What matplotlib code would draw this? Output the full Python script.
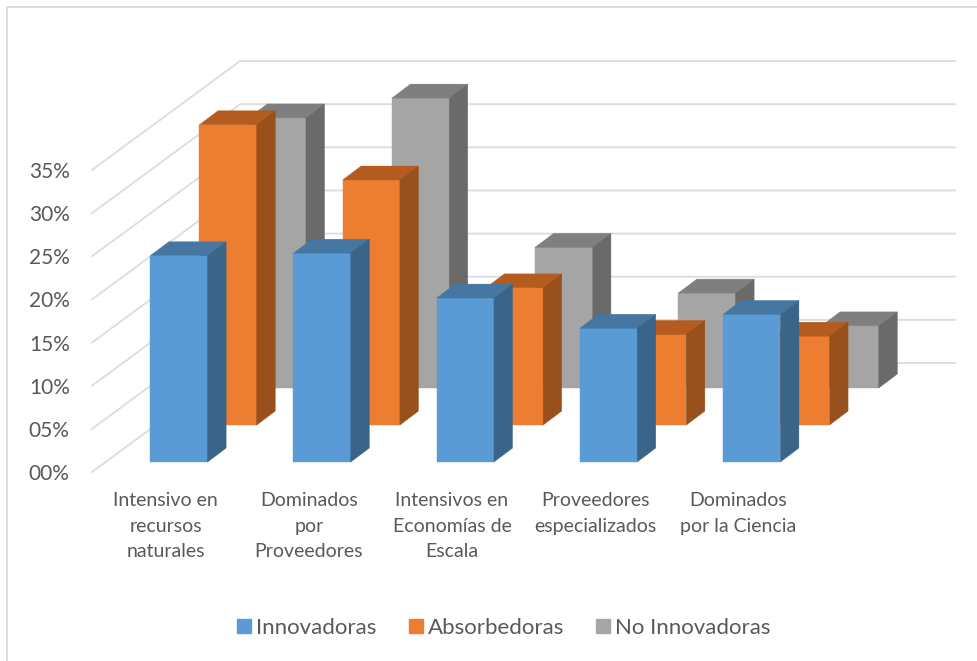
import matplotlib
matplotlib.use("Agg")
import matplotlib.pyplot as plt
from matplotlib.lines import Line2D
from matplotlib.patches import Patch

plt.rcParams["font.family"] = ["Lato", "DejaVu Sans"]

categories = [
    "Intensivo en\nrecursos\nnaturales",
    "Dominados\npor\nProveedores",
    "Intensivos en\nEconomías de\nEscala",
    "Proveedores\nespecializados",
    "Dominados\npor la Ciencia",
]
innovadoras = [23.9, 24.2, 19.0, 15.5, 17.1]
absorbedoras = [34.8, 28.4, 15.9, 10.5, 10.3]
no_innovadoras = [31.3, 33.6, 16.3, 11.0, 7.2]
y_ticks = [0, 5, 10, 15, 20, 25, 30, 35]
y_labels = ["00%", "05%", "10%", "15%", "20%", "25%", "30%", "35%"]

W, H = 978, 661
BAR_W = 0.40
BAR_D = 0.128
# how far one unit of depth moves a point, in data units
DEPTH_X = 1.012
DEPTH_Y = 12.63
# the walls lean slightly more than the bars
WALL_LEFT = -0.514
WALL_DX = 1.034
WALL_END = 5.513
TEXT = "#595959"
GRID = "#dedede"

fig = plt.figure(figsize=(W / 100, H / 100), dpi=100)
ax = fig.add_axes([94 / W, 1 - 472 / H, 716 / W, 302 / H])
ax.set_xlim(-0.5, 4.5)
ax.set_ylim(0, 35)
for s in ax.spines.values():
    s.set_visible(False)
ax.patch.set_visible(False)


def pt(x, d, v):
    return x + DEPTH_X * d, v + DEPTH_Y * d


def draw_bar(x, d, v, front, top, side):
    x0, x1 = x - BAR_W / 2, x + BAR_W / 2
    d1 = d + BAR_D
    faces = [
        ([pt(x0, d, 0), pt(x1, d, 0), pt(x1, d, v), pt(x0, d, v)], front),
        ([pt(x0, d, v), pt(x1, d, v), pt(x1, d1, v), pt(x0, d1, v)], top),
        ([pt(x1, d, 0), pt(x1, d1, 0), pt(x1, d1, v), pt(x1, d, v)], side),
    ]
    for corners, color in faces:
        xs, ys = zip(*corners)
        ax.fill(xs, ys, color=color, lw=0.3, clip_on=False, zorder=3)


# side wall and back wall grid
for v in y_ticks:
    xs = [WALL_LEFT, WALL_LEFT + WALL_DX, WALL_END]
    ys = [v, v + DEPTH_Y, v + DEPTH_Y]
    ax.plot(xs, ys, color=GRID, lw=1.4, clip_on=False, zorder=1)

# back row first so the nearer bars paint over it
series = [
    (no_innovadoras, 0.771, "#a5a5a5", "#7f7f7f", "#6a6a6a"),
    (absorbedoras, 0.431, "#ed7d31", "#b45c1f", "#98511d"),
    (innovadoras, 0.092, "#5b9bd5", "#4677a3", "#3a6488"),
]
for values, depth, front, top, side in series:
    for i, v in enumerate(values):
        draw_bar(i, depth, v, front, top, side)

ax.set_yticks(y_ticks)
ax.set_yticklabels(y_labels, fontsize=15, color=TEXT, va="center_baseline")
ax.set_xticks(range(len(categories)))
ax.set_xticklabels(categories, fontsize=14, color=TEXT, linespacing=1.61)
ax.tick_params(axis="y", length=0, pad=17.5)
ax.tick_params(axis="x", length=0, pad=14.5)

handles = [
    Patch(color="#5b9bd5", label="Innovadoras"),
    Patch(color="#ed7d31", label="Absorbedoras"),
    Patch(color="#a5a5a5", label="No Innovadoras"),
]
fig.legend(
    handles=handles,
    loc="center",
    bbox_to_anchor=(504 / W, 1 - 628 / H),
    ncol=3,
    frameon=False,
    fontsize=16,
    labelcolor=TEXT,
    handlelength=0.63,
    handleheight=0.63,
    handletextpad=0.23,
    columnspacing=1.44,
)

# chart area border
fig.add_artist(Line2D([7 / W, 7 / W, 1], [0, 1 - 7 / H, 1 - 7 / H], color=GRID, lw=1.4))

fig.savefig("out.png", dpi=100)
